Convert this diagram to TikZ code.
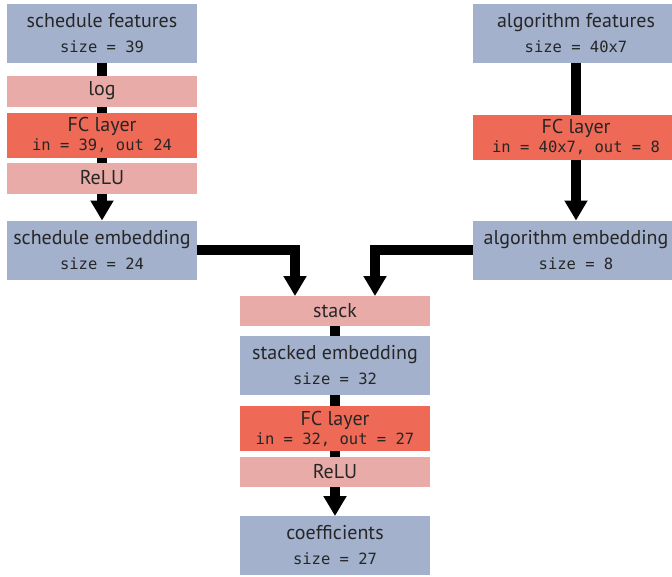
\documentclass[tikz,border=0pt]{standalone}
\usepackage{fontspec}
\setmainfont{PT Sans}
\setmonofont{DejaVu Sans Mono}
\usetikzlibrary{arrows.meta, positioning, backgrounds}
\definecolor{featblue}{HTML}{A3B1CD}
\definecolor{oppink}{HTML}{E8ABA8}
\definecolor{fcred}{HTML}{EE6A56}
\newcommand{\sizetxt}[1]{{\ttfamily\fontsize{15.5}{17}\selectfont #1}}

\begin{document}
\begin{tikzpicture}[x=1pt, y=1pt,
  every node/.style={inner sep=0pt, outer sep=0pt, align=center, text=black!85, font=\fontsize{20}{22}\selectfont},
  datanode/.style={rectangle, fill=featblue, minimum width=190pt, minimum height=59pt},
  opnode/.style={rectangle, fill=oppink, minimum width=190pt, minimum height=31pt},
  fcnode/.style={rectangle, fill=fcred, minimum width=190pt, minimum height=45pt},
  flow/.style={line width=10pt, -{Triangle[length=20pt, width=22pt]}}]
\useasboundingbox (0,0) rectangle (672,-576);

% schedule branch
\node (schedfeat) [datanode] at (102,-33) {schedule features\\[3pt]\sizetxt{size = 39}};
\node (log) [opnode, below=13pt of schedfeat] {log};
\node (schedfc) [fcnode, below=6pt of log] {FC layer\\[-3pt]\sizetxt{in = 39, out 24}};
\node (schedrelu) [opnode, below=5pt of schedfc] {ReLU};
\node (schedemb) [datanode, below=27pt of schedrelu] {schedule embedding\\[3pt]\sizetxt{size = 24}};

% algorithm branch
\node (algfeat) [datanode, minimum width=206pt] at (576,-33) {algorithm features\\[3pt]\sizetxt{size = 40x7}};
\node (algfc) [fcnode, minimum width=206pt, below=52pt of algfeat] {FC layer\\[-3pt]\sizetxt{in = 40x7, out = 8}};
\node (algemb) [datanode, minimum width=206pt, below=61pt of algfc] {algorithm embedding\\[3pt]\sizetxt{size = 8}};

% merged part
\node (stack) [opnode, minimum height=30pt] at (335,-311) {stack};
\node (stacked) [datanode, below=10pt of stack] {stacked embedding\\[3pt]\sizetxt{size = 32}};
\node (mergefc) [fcnode, below=11pt of stacked] {FC layer\\[-3pt]\sizetxt{in = 32, out = 27}};
\node (mergerelu) [opnode, minimum height=30pt, below=6pt of mergefc] {ReLU};
\node (coef) [datanode, below=29pt of mergerelu] {coefficients\\[3pt]\sizetxt{size = 27}};

\begin{scope}[on background layer]
\draw [flow] (schedfeat) -- (schedemb);
\draw [flow] (algfeat) -- (algemb);
\draw [flow] (schedemb.east) -| ([xshift=-40pt]stack.north);
\draw [flow] (algemb.west) -| ([xshift=40pt]stack.north);
\draw [flow] (stack) -- (coef);
\end{scope}
\end{tikzpicture}
\end{document}
